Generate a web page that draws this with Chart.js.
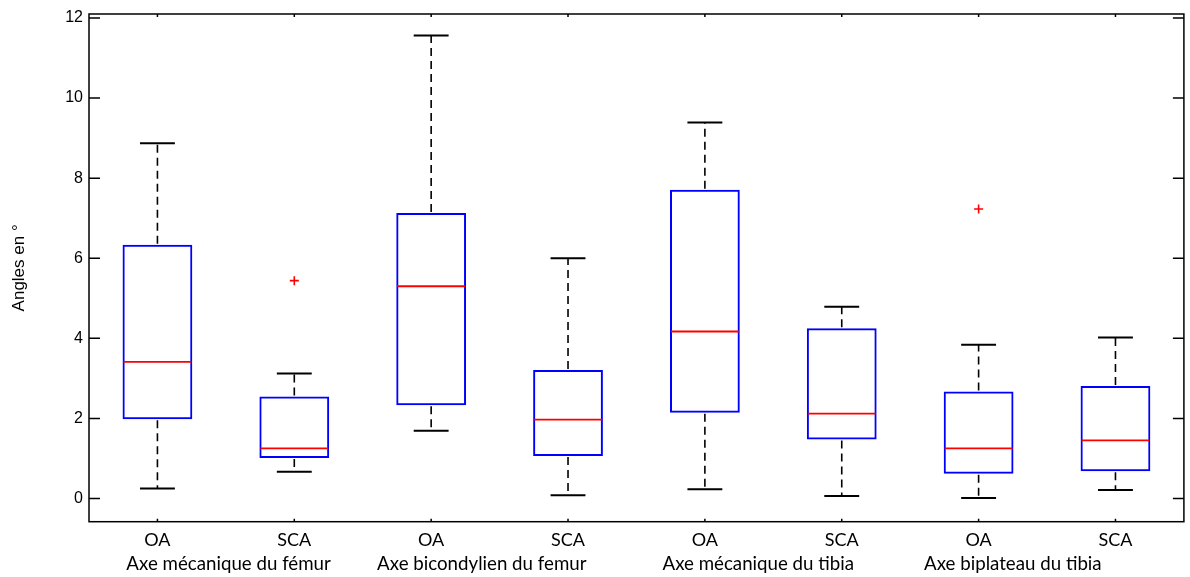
<!DOCTYPE html>
<html><head><meta charset="utf-8">
<script src="https://cdn.jsdelivr.net/npm/chart.js@4/dist/chart.umd.min.js"></script>
<style>html,body{margin:0;padding:0;background:#fff}#wrap{width:1190px;height:577px}</style>
</head><body><div id="wrap"><canvas id="c" width="1190" height="577"></canvas></div>
<script>
const categories = ['OA','SCA','OA','SCA','OA','SCA','OA','SCA'];
const groups = ['Axe mécanique du fémur','Axe bicondylien du femur','Axe mécanique du tibia','Axe biplateau du tibia'];
const groupTickPos = [0.52, 2.37, 4.39, 6.25];
const whiskerLow  = [0.25, 0.67, 1.69, 0.08, 0.23, 0.06, 0.01, 0.21];
const q1          = [1.98, 1.01, 2.33, 1.06, 2.14, 1.47, 0.62, 0.68];
const median      = [3.41, 1.25, 5.30, 1.97, 4.17, 2.12, 1.25, 1.45];
const q3          = [6.34, 2.55, 7.13, 3.21, 7.71, 4.25, 2.67, 2.81];
const whiskerHigh = [8.87, 3.12, 11.56, 6.00, 9.39, 4.79, 3.84, 4.02];
const outliers    = [null, 5.44, null, null, null, null, 7.23, null];
const yTicks = [0, 2, 4, 6, 8, 10, 12];
const yTitle = 'Angles en °';

const boxPlugin = {
  id: 'boxExtras',
  afterDatasetsDraw(chart) {
    const ctx = chart.ctx, ys = chart.scales.y;
    const meta = chart.getDatasetMeta(0);
    ctx.save();
    meta.data.forEach((bar, i) => {
      const x = bar.x, w = bar.width;
      const py = v => ys.getPixelForValue(v);
      ctx.strokeStyle = '#000'; ctx.lineWidth = 1.6;
      ctx.setLineDash([8, 5]);
      ctx.beginPath();
      ctx.moveTo(x, py(q3[i]) - 1); ctx.lineTo(x, py(whiskerHigh[i]));
      ctx.moveTo(x, py(q1[i]) + 1); ctx.lineTo(x, py(whiskerLow[i]));
      ctx.stroke();
      ctx.setLineDash([]);
      ctx.lineWidth = 2;
      ctx.beginPath();
      ctx.moveTo(x - w / 4, py(whiskerHigh[i])); ctx.lineTo(x + w / 4, py(whiskerHigh[i]));
      ctx.moveTo(x - w / 4, py(whiskerLow[i])); ctx.lineTo(x + w / 4, py(whiskerLow[i]));
      ctx.stroke();
      ctx.strokeStyle = '#ff0000'; ctx.lineWidth = 1.8;
      ctx.beginPath();
      ctx.moveTo(x - w / 2 + 1, py(median[i])); ctx.lineTo(x + w / 2 - 1, py(median[i]));
      ctx.stroke();
    });
    ctx.restore();
  },
  afterDraw(chart) {
    const ctx = chart.ctx, a = chart.chartArea, ys = chart.scales.y, xs = chart.scales.x;
    ctx.save();
    ctx.strokeStyle = '#000'; ctx.lineWidth = 1.5;
    ctx.strokeRect(a.left, a.top, a.right - a.left, a.bottom - a.top);
    ctx.beginPath();
    ys.ticks.forEach(t => {
      const p = ys.getPixelForValue(t.value);
      ctx.moveTo(a.left, p); ctx.lineTo(a.left + 11, p);
      ctx.moveTo(a.right, p); ctx.lineTo(a.right - 11, p);
    });
    xs.ticks.forEach((t, i) => {
      const p = xs.getPixelForTick(i);
      ctx.moveTo(p, a.bottom); ctx.lineTo(p, a.bottom - 3);
      ctx.moveTo(p, a.top); ctx.lineTo(p, a.top + 3);
    });
    ctx.stroke();
    ctx.restore();
  }
};

function zeroPad(s) { s.paddingLeft = 0; s.paddingRight = 0; s.paddingTop = 0; s.paddingBottom = 0; }

new Chart(document.getElementById('c'), {
  data: {
    labels: categories,
    datasets: [
      {
        type: 'bar',
        data: categories.map((c, i) => [q1[i], q3[i]]),
        backgroundColor: 'rgba(255,255,255,0)',
        borderColor: '#0000ff',
        borderWidth: 2,
        borderSkipped: false,
        barPercentage: 0.51,
        categoryPercentage: 1.0
      },
      {
        type: 'line',
        data: outliers,
        showLine: false,
        pointStyle: 'cross',
        pointRadius: 4.5,
        pointBorderColor: '#ff0000',
        pointBorderWidth: 1.6,
        borderColor: '#ff0000'
      }
    ]
  },
  options: {
    responsive: false,
    animation: false,
    devicePixelRatio: 1,
    layout: { padding: { left: 0, right: 2, top: 14, bottom: 0 } },
    plugins: { legend: { display: false }, tooltip: { enabled: false } },
    scales: {
      x: {
        type: 'category',
        position: 'bottom',
        weight: 0,
        offset: true,
        grid: { display: false, drawTicks: false },
        border: { display: false },
        ticks: { color: '#000', font: { family: 'Lato', size: 18 }, padding: 8, maxRotation: 0, autoSkip: false },
        afterFit(s) { s.height = 26; zeroPad(s); }
      },
      x2: {
        type: 'linear',
        position: 'bottom',
        weight: 1,
        min: -0.5,
        max: 7.5,
        grid: { display: false, drawTicks: false },
        border: { display: false },
        afterBuildTicks(s) { s.ticks = groupTickPos.map(v => ({ value: v })); },
        ticks: { color: '#000', font: { family: 'Lato', size: 18.7 }, padding: 5, maxRotation: 0, autoSkip: false,
                 callback: (v, i) => groups[i] },
        afterFit(s) { s.height = 29.3; zeroPad(s); }
      },
      y: {
        type: 'linear',
        min: -0.58,
        max: 12.1,
        grid: { display: false, drawTicks: false },
        border: { display: false },
        ticks: { color: '#000', font: { family: 'Liberation Sans', size: 16 }, padding: 6, includeBounds: false },
        afterBuildTicks(s) { s.ticks = yTicks.map(v => ({ value: v })); },
        title: { display: true, text: yTitle, color: '#000', font: { family: 'Liberation Sans', size: 17 }, padding: { top: 9, bottom: 0 } },
        afterFit(s) { s.width = 89; zeroPad(s); }
      }
    }
  },
  plugins: [boxPlugin]
});
</script>
</body></html>
